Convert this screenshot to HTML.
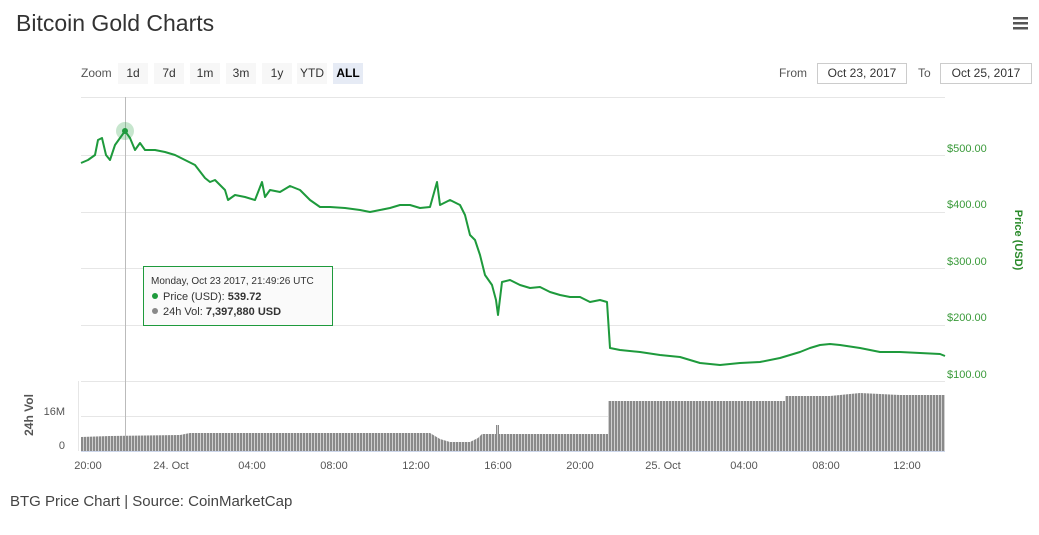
<!DOCTYPE html><html><head><meta charset="utf-8"><style>
body{margin:0;background:#fff;font-family:"Liberation Sans",sans-serif}
</style></head><body>
<svg width="1039" height="530" xmlns="http://www.w3.org/2000/svg" font-family="Liberation Sans, sans-serif">
<defs><pattern id="vb" width="3" height="10" patternUnits="userSpaceOnUse"><rect width="2" height="10" fill="#8a8a8a"/><rect x="2" width="1" height="10" fill="#d0d0d0"/></pattern></defs>
<text x="16" y="31" font-size="23" fill="#333">Bitcoin Gold Charts</text>
<g fill="#555"><rect x="1013" y="17" width="15" height="2.5"/><rect x="1013" y="22" width="15" height="2.5"/><rect x="1013" y="27" width="15" height="2.5"/></g>
<text x="81" y="77" font-size="12" fill="#555">Zoom</text>
<g font-size="12" fill="#333" text-anchor="middle">
<rect x="118" y="63" width="30" height="21" fill="#f7f7f7"/><text x="133" y="77">1d</text>
<rect x="154" y="63" width="30" height="21" fill="#f7f7f7"/><text x="169" y="77">7d</text>
<rect x="190" y="63" width="30" height="21" fill="#f7f7f7"/><text x="205" y="77">1m</text>
<rect x="226" y="63" width="30" height="21" fill="#f7f7f7"/><text x="241" y="77">3m</text>
<rect x="262" y="63" width="30" height="21" fill="#f7f7f7"/><text x="277" y="77">1y</text>
<rect x="297" y="63" width="30" height="21" fill="#f7f7f7"/><text x="312" y="77">YTD</text>
<rect x="333" y="63" width="30" height="21" fill="#e6ebf5"/><text x="348" y="77" font-weight="bold" fill="#000">ALL</text>
</g>
<text x="779" y="77" font-size="12" fill="#555">From</text>
<rect x="817.5" y="63.5" width="89" height="20" fill="#fff" stroke="#ccc"/><text x="862" y="77" font-size="12" fill="#333" text-anchor="middle">Oct 23, 2017</text>
<text x="918" y="77" font-size="12" fill="#555">To</text>
<rect x="940.5" y="63.5" width="91" height="20" fill="#fff" stroke="#ccc"/><text x="986" y="77" font-size="12" fill="#333" text-anchor="middle">Oct 25, 2017</text>
<g stroke="#e6e6e6" stroke-width="1">
<line x1="81" y1="97.5" x2="945" y2="97.5"/><line x1="81" y1="155.5" x2="945" y2="155.5"/><line x1="81" y1="212.5" x2="945" y2="212.5"/><line x1="81" y1="268.5" x2="945" y2="268.5"/><line x1="81" y1="325.5" x2="945" y2="325.5"/><line x1="81" y1="381.5" x2="945" y2="381.5"/><line x1="81" y1="416.5" x2="945" y2="416.5"/>
</g>
<line x1="78.5" y1="381" x2="78.5" y2="451" stroke="#e6e6e6"/>
<g font-size="11" fill="#3a9a3a">
<text x="947" y="152">$500.00</text><text x="947" y="208">$400.00</text><text x="947" y="265">$300.00</text><text x="947" y="321">$200.00</text><text x="947" y="378">$100.00</text>
</g>
<text transform="translate(1015,240) rotate(90)" font-size="11" font-weight="bold" fill="#2a8a2a" text-anchor="middle">Price (USD)</text>
<text transform="translate(33,415) rotate(-90)" font-size="12" font-weight="bold" fill="#555" text-anchor="middle">24h Vol</text>
<text x="65" y="415" font-size="11" fill="#555" text-anchor="end">16M</text>
<text x="65" y="449" font-size="11" fill="#555" text-anchor="end">0</text>
<polygon fill="url(#vb)" points="81,451 81,437 110,436 180,435 190,433 430,433 440,439 450,442 470,442 478,438 482,434 496,434 496,425 499,425 499,434 608,434 608,401 785,401 785,396 830,396 860,393 900,395 945,395 945,451"/>
<line x1="81" y1="451.5" x2="945" y2="451.5" stroke="#ccd6eb"/>
<g font-size="11" fill="#555" text-anchor="middle">
<text x="88" y="469">20:00</text><text x="171" y="469">24. Oct</text><text x="252" y="469">04:00</text><text x="334" y="469">08:00</text><text x="416" y="469">12:00</text><text x="498" y="469">16:00</text><text x="580" y="469">20:00</text><text x="663" y="469">25. Oct</text><text x="744" y="469">04:00</text><text x="826" y="469">08:00</text><text x="907" y="469">12:00</text>
</g>
<line x1="125.5" y1="97" x2="125.5" y2="451" stroke="#bbb"/>
<polyline fill="none" stroke="#1e9a3c" stroke-width="2" stroke-linejoin="round" points="81,163 88,160 95,155 98,140 102,138 106,155 110,160 115,145 120,138 125,131 130,138 135,150 140,143 145,150 155,150 165,152 175,155 185,160 195,165 205,178 210,182 215,180 225,190 228,200 235,195 245,197 255,200 262,182 265,197 270,190 280,192 290,186 300,190 310,200 320,207 330,207 345,208 360,210 370,212 380,210 390,208 400,205 410,205 420,208 430,207 437,182 440,205 450,200 460,205 465,215 470,235 475,240 480,255 485,275 492,285 496,300 498,315 502,282 510,280 520,285 530,288 540,287 550,292 560,295 570,297 580,297 590,302 600,300 607,302 610,348 620,350 640,352 660,355 680,357 700,363 720,365 740,363 760,362 780,358 790,355 800,352 810,348 820,345 830,344 840,345 860,348 880,352 900,352 920,353 940,354 945,356"/>
<circle cx="125" cy="131" r="9" fill="#1e9a3c" fill-opacity="0.25"/><circle cx="125" cy="131" r="3" fill="#1e9a3c"/>
<rect x="143.5" y="266.5" width="189" height="59" fill="#fafafa" fill-opacity="0.95" stroke="#1e9a3c"/>
<text x="151" y="284" font-size="10" fill="#333">Monday, Oct 23 2017, 21:49:26 UTC</text>
<circle cx="155" cy="296" r="3" fill="#1e9a3c"/><text x="163" y="300" font-size="11" fill="#333">Price (USD): <tspan font-weight="bold">539.72</tspan></text>
<circle cx="155" cy="311" r="3" fill="#888"/><text x="163" y="315" font-size="11" fill="#333">24h Vol: <tspan font-weight="bold">7,397,880 USD</tspan></text>
<text x="10" y="506" font-size="15" fill="#444">BTG Price Chart | Source: CoinMarketCap</text>
</svg></body></html>
